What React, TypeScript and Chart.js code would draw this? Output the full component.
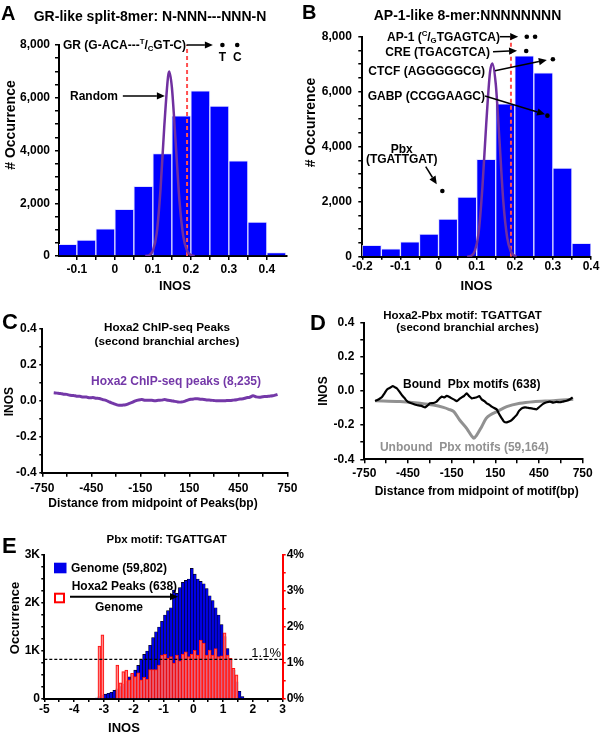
import React, { useEffect, useRef } from "react";
import { Chart, registerables } from "chart.js";
Chart.register(...registerables);

const FONT = "'Liberation Sans', Arial, Helvetica, sans-serif";
const BLUE = "#0000ff";
const PURPLE = "#7030a0";
const GRAY = "rgb(145,145,145)";

// ===== Panel A: GR-like split-8mer =====
const binsA = [-0.125, -0.075, -0.025, 0.025, 0.075, 0.125, 0.175, 0.225, 0.275, 0.325, 0.375, 0.425];
const countsA = [440, 600, 1030, 1770, 2640, 3880, 5310, 6260, 5680, 3610, 1290, 130];
const randomXA = [0.08, 0.09, 0.1, 0.11, 0.12, 0.13, 0.14, 0.143, 0.15, 0.16, 0.17, 0.18, 0.19, 0.2, 0.21];
const randomYA = [0, 30, 200, 850, 2500, 4900, 6800, 7000, 6400, 4300, 2100, 750, 200, 40, 0];
const cutoffA = 0.19;
const dotsXA = [0.283, 0.322];
const dotsYA = [8000, 8000];
const xTicksA = [-0.1, -0.05, 0, 0.05, 0.1, 0.15, 0.2, 0.25, 0.3, 0.35, 0.4];
const xLabelsA = [-0.1, 0, 0.1, 0.2, 0.3, 0.4];
const yTicksA = [0, 500, 1000, 1500, 2000, 2500, 3000, 3500, 4000, 4500, 5000, 5500, 6000, 6500, 7000, 7500, 8000];
const yLabelsA = [0, 2000, 4000, 6000, 8000];

// ===== Panel B: AP-1-like 8-mer =====
const binsB = [-0.175, -0.125, -0.075, -0.025, 0.025, 0.075, 0.125, 0.175, 0.225, 0.275, 0.325, 0.375];
const countsB = [410, 290, 545, 820, 1370, 2170, 3540, 5560, 7300, 6690, 3220, 485];
const randomXB = [0.075, 0.085, 0.095, 0.105, 0.115, 0.125, 0.135, 0.141, 0.15, 0.16, 0.17, 0.18, 0.19, 0.2, 0.205];
const randomYB = [0, 30, 200, 850, 2500, 4800, 6700, 7030, 6300, 4200, 2000, 700, 180, 30, 0];
const cutoffB = 0.19;
const dotsXB = [0.2315, 0.2533, 0.23, 0.3, 0.2856, 0.01];
const dotsYB = [8000, 8000, 7480, 7180, 5130, 2390];
const xTicksB = [-0.2, -0.15, -0.1, -0.05, 0, 0.05, 0.1, 0.15, 0.2, 0.25, 0.3, 0.35, 0.4];
const xLabelsB = [-0.2, -0.1, 0, 0.1, 0.2, 0.3, 0.4];

// ===== Panel C: Hoxa2 ChIP-seq peaks profile =====
const distC = [-680, -660, -640, -620, -600, -580, -560, -540, -520, -500, -480, -460, -440, -420, -400, -380, -360, -340, -320, -300, -280, -260, -240, -220, -200, -180, -160, -140, -120, -100, -80, -60, -40, -20, 0, 20, 40, 60, 80, 100, 120, 140, 160, 180, 200, 220, 240, 260, 280, 300, 320, 340, 360, 380, 400, 420, 440, 460, 480, 500, 520, 540, 560, 580, 600, 620, 640, 660, 680, 690];
const inosC = [0.045, 0.043, 0.041, 0.037, 0.036, 0.031, 0.03, 0.026, 0.025, 0.021, 0.021, 0.017, 0.018, 0.015, 0.013, 0.007, 0.003, -0.006, -0.013, -0.02, -0.025, -0.024, -0.022, -0.015, -0.009, 0.0, 0.005, 0.007, 0.003, 0.004, 0.003, 0.001, 0.003, 0.004, 0.007, 0.003, 0.001, -0.003, -0.006, -0.007, -0.003, 0.004, 0.009, 0.011, 0.012, 0.009, 0.008, 0.005, 0.004, 0.002, 0.0, 0.001, 0.0, 0.002, 0.002, 0.004, 0.006, 0.01, 0.012, 0.017, 0.02, 0.028, 0.022, 0.02, 0.023, 0.024, 0.026, 0.028, 0.033, 0.036];
const xTicksCD = [-750, -600, -450, -300, -150, 0, 150, 300, 450, 600, 750];
const xLabelsCD = [-750, -450, -150, 150, 450, 750];
const yTicksCD = [-0.4, -0.3, -0.2, -0.1, 0, 0.1, 0.2, 0.3, 0.4];
const yLabelsCD = [-0.4, -0.2, 0, 0.2, 0.4];

// ===== Panel D: Hoxa2-Pbx motif profile =====
const distBoundD = [-676, -650, -630, -610, -592, -575, -555, -540, -527, -510, -493, -475, -459, -440, -413, -390, -367, -350, -333, -315, -299, -275, -253, -235, -218, -200, -184, -165, -150, -130, -115, -98, -81, -64, -47, -30, -12, 5, 22, 40, 56, 75, 91, 108, 125, 142, 159, 176, 194, 210, 228, 245, 262, 280, 297, 310, 319, 336, 354, 370, 388, 410, 434, 450, 468, 485, 503, 525, 548, 570, 594, 615, 640, 660, 681];
const inosBoundD = [-0.059, -0.048, -0.037, -0.012, 0.01, 0.018, 0.029, 0.022, 0.016, -0.002, -0.023, -0.04, -0.057, -0.068, -0.076, -0.082, -0.086, -0.09, -0.096, -0.085, -0.072, -0.07, -0.062, -0.045, -0.033, -0.038, -0.029, -0.035, -0.043, -0.052, -0.059, -0.048, -0.037, -0.028, -0.014, -0.03, -0.043, -0.04, -0.037, -0.03, -0.049, -0.06, -0.072, -0.08, -0.092, -0.1, -0.107, -0.135, -0.16, -0.18, -0.184, -0.178, -0.17, -0.155, -0.14, -0.12, -0.111, -0.1, -0.096, -0.098, -0.1, -0.104, -0.107, -0.095, -0.082, -0.072, -0.066, -0.062, -0.068, -0.064, -0.066, -0.062, -0.057, -0.05, -0.037];
const distUnboundD = [-676, -505, -367, -276, -207, -170, -135, -95, -47, -12, 3, 22, 56, 87, 120, 159, 228, 319, 411, 548, 685];
const inosUnboundD = [-0.057, -0.062, -0.072, -0.082, -0.096, -0.107, -0.121, -0.17, -0.219, -0.264, -0.277, -0.258, -0.209, -0.16, -0.137, -0.121, -0.092, -0.072, -0.0625, -0.057, -0.049];

// ===== Panel E: Pbx motif TGATTGAT INOS histogram =====
const binsE = [-3.25, -3.15, -3.05, -2.95, -2.85, -2.75, -2.65, -2.55, -2.45, -2.35, -2.25, -2.15, -2.05, -1.95, -1.85, -1.75, -1.65, -1.55, -1.45, -1.35, -1.25, -1.15, -1.05, -0.95, -0.85, -0.75, -0.65, -0.55, -0.45, -0.35, -0.25, -0.15, -0.05, 0.05, 0.15, 0.25, 0.35, 0.45, 0.55, 0.65, 0.75, 0.85, 0.95, 1.05, 1.15, 1.25, 1.35, 1.45, 1.55, 1.65];
const genomeE = [20, 50, 80, 100, 120, 140, 180, 210, 260, 310, 380, 460, 530, 600, 700, 820, 930, 1000, 1120, 1280, 1400, 1500, 1620, 1750, 1840, 1900, 2270, 2200, 2320, 2430, 2470, 2500, 2720, 2600, 2500, 2450, 2400, 2300, 2150, 2050, 1900, 1750, 1550, 1300, 1050, 820, 600, 360, 160, 50];
const peaksPctE = [0, 1.47, 1.78, 0, 0, 0, 0, 0.94, 0.45, 0.76, 0.8, 0.53, 0.71, 0.62, 0.73, 0.53, 0.6, 0.55, 0.82, 0.82, 0.82, 0.94, 1.22, 1.24, 1.13, 1.18, 1.0, 1.22, 1.06, 1.25, 1.31, 1.18, 1.25, 1.35, 1.22, 1.64, 1.55, 1.22, 1.36, 1.22, 1.4, 1.18, 1.2, 1.84, 1.22, 1.13, 0.85, 0.67, 0, 0];
const thresholdE = 1.1;
const xTicksE = [-5, -4.5, -4, -3.5, -3, -2.5, -2, -1.5, -1, -0.5, 0, 0.5, 1, 1.5, 2, 2.5, 3];
const xLabelsE = [-5, -4, -3, -2, -1, 0, 1, 2, 3];
const yTicksE = [0, 250, 500, 750, 1000, 1250, 1500, 1750, 2000, 2250, 2500, 2750, 3000];
const yLabelsE = [0, 1000, 2000, 3000];
const y2TicksE = [0, 0.5, 1, 1.5, 2, 2.5, 3, 3.5, 4];
const y2LabelsE = [0, 1, 2, 3, 4];

// ---------- helpers ----------
type Seg = { t: string; sup?: boolean; sub?: boolean };
type Txt = { t: string | Seg[]; x: number; y: number; size?: number; color?: string; align?: CanvasTextAlign; rot?: boolean; xd?: string; weight?: string };
type Arr = { x1: number; y1: number; x2: number; y2: number; px?: boolean; xs?: string; ys?: string; lw?: number; head?: boolean };

function mkAxis(o: { min: number; max: number; ticks: number[]; labels: number[]; fmt: (v: number) => string; size: number; horizontal: boolean; position?: string; color?: string; tickLen?: number; pad?: number; }) {
  const color = o.color ?? "#000";
  return {
    type: "linear",
    position: o.position ?? (o.horizontal ? "bottom" : "left"),
    min: o.min,
    max: o.max,
    offset: false,
    afterBuildTicks: (a: any) => { a.ticks = o.ticks.map((v) => ({ value: v })); },
    afterFit: (a: any) => {
      if (o.horizontal) { a.height = o.size; a.paddingLeft = 0; a.paddingRight = 0; }
      else { a.width = o.size; a.paddingTop = 0; a.paddingBottom = 0; }
    },
    border: { display: true, color, width: 2 },
    grid: { display: true, offset: false, drawOnChartArea: false, drawTicks: true, tickLength: o.tickLen ?? 4, color, lineWidth: 1.5 },
    ticks: {
      autoSkip: false, maxRotation: 0, minRotation: 0, padding: o.pad ?? 2, color: "#000",
      font: { family: FONT, size: 12, weight: "bold" },
      callback: (v: any) => { const n = Number(v); return o.labels.some((l) => Math.abs(l - n) < 1e-9) ? o.fmt(n) : ""; },
    },
  };
}

function drawArrow(ctx: CanvasRenderingContext2D, x1: number, y1: number, x2: number, y2: number, lw: number, head: boolean) {
  ctx.strokeStyle = "#000"; ctx.fillStyle = "#000"; ctx.lineWidth = lw;
  const ang = Math.atan2(y2 - y1, x2 - x1);
  const hl = 8, hw = 3.6;
  const bx = head ? x2 - Math.cos(ang) * hl : x2;
  const by = head ? y2 - Math.sin(ang) * hl : y2;
  ctx.beginPath(); ctx.moveTo(x1, y1); ctx.lineTo(bx, by); ctx.stroke();
  if (head) {
    ctx.beginPath();
    ctx.moveTo(x2, y2);
    ctx.lineTo(bx + Math.sin(ang) * hw, by - Math.cos(ang) * hw);
    ctx.lineTo(bx - Math.sin(ang) * hw, by + Math.cos(ang) * hw);
    ctx.closePath(); ctx.fill();
  }
}

function drawText(chart: any, ctx: CanvasRenderingContext2D, t: Txt) {
  const size = t.size ?? 12;
  const weight = t.weight ?? "bold";
  let x = t.xd ? chart.scales[t.xd].getPixelForValue(t.x) : t.x;
  const y = t.y;
  ctx.fillStyle = t.color ?? "#000";
  ctx.textBaseline = "alphabetic";
  if (t.rot) {
    ctx.save();
    ctx.translate(x, y);
    ctx.rotate(-Math.PI / 2);
    ctx.textAlign = "center";
    ctx.font = `${weight} ${size}px ${FONT}`;
    ctx.fillText(t.t as string, 0, 0);
    ctx.restore();
    return;
  }
  const segs: Seg[] = typeof t.t === "string" ? [{ t: t.t }] : t.t;
  const parts = segs.map((s) => {
    const fs = s.sup || s.sub ? size * 0.65 : size;
    ctx.font = `${weight} ${fs}px ${FONT}`;
    return { s, fs, w: ctx.measureText(s.t).width };
  });
  const total = parts.reduce((a, p) => a + p.w, 0);
  const align = t.align ?? "left";
  let cx = align === "right" ? x - total : align === "center" ? x - total / 2 : x;
  ctx.textAlign = "left";
  for (const p of parts) {
    ctx.font = `${weight} ${p.fs}px ${FONT}`;
    const dy = p.s.sup ? -size * 0.38 : p.s.sub ? size * 0.2 : 0;
    ctx.fillText(p.s.t, cx, y + dy);
    cx += p.w;
  }
}

function overlay(id: string, texts: Txt[], arrows: Arr[], extra?: (chart: any, ctx: CanvasRenderingContext2D) => void) {
  return {
    id,
    afterDraw(chart: any) {
      const ctx = chart.ctx as CanvasRenderingContext2D;
      ctx.save();
      for (const a of arrows) {
        let { x1, y1, x2, y2 } = a;
        if (!a.px) {
          const xs = chart.scales[a.xs ?? "x"], ys = chart.scales[a.ys ?? "y"];
          x1 = xs.getPixelForValue(a.x1); x2 = xs.getPixelForValue(a.x2);
          y1 = ys.getPixelForValue(a.y1); y2 = ys.getPixelForValue(a.y2);
        }
        drawArrow(ctx, x1, y1, x2, y2, a.lw ?? 1.5, a.head !== false);
      }
      for (const t of texts) drawText(chart, ctx, t);
      if (extra) extra(chart, ctx);
      ctx.restore();
    },
  };
}

const pts = (xs: number[], ys: number[]) => xs.map((x, i) => ({ x, y: ys[i] }));
const baseOpts = (pad: { top: number; right: number }) => ({
  responsive: false,
  animation: false,
  devicePixelRatio: 1,
  layout: { padding: { left: 0, top: pad.top, right: pad.right, bottom: 0 } },
  plugins: { legend: { display: false }, tooltip: { enabled: false }, title: { display: false } },
});
const thousands = (v: number) => (v === 0 ? "0" : v.toLocaleString("en-US"));
const oneDec = (v: number) => (Math.round(v * 10) / 10).toString();

// ---------- panels ----------
function histPanel(canvas: HTMLCanvasElement, p: any) {
  return new Chart(canvas, {
    type: "bar",
    data: {
      datasets: [
        { type: "line", data: pts(p.dotsX, p.dotsY), showLine: false, pointRadius: 2.3, pointBackgroundColor: "#000", pointBorderWidth: 0, clip: false, order: 0 } as any,
        { type: "line", data: pts(p.randX, p.randY), borderColor: PURPLE, borderWidth: 2.5, pointRadius: 0, cubicInterpolationMode: "monotone", order: 1 } as any,
        { type: "line", data: [{ x: p.cutoff, y: 0 }, { x: p.cutoff, y: 8000 }], borderColor: "#ff5050", borderWidth: 2, borderDash: [4, 3], pointRadius: 0, order: 2 } as any,
        { type: "bar", data: pts(p.bins, p.counts), backgroundColor: BLUE, borderColor: "rgba(225,225,255,1)", borderWidth: 1, barPercentage: 1, categoryPercentage: 1, grouped: false, order: 3 } as any,
      ],
    },
    options: {
      ...baseOpts({ top: p.area.T, right: 300 - p.area.R }),
      scales: {
        x: mkAxis({ min: p.xmin, max: p.xmax, ticks: p.xTicks, labels: p.xLabels, fmt: oneDec, size: 300 - p.area.B, horizontal: true, tickLen: p.xTickLen, pad: p.xPad }),
        y: mkAxis({ min: 0, max: 8000, ticks: yTicksA, labels: yLabelsA, fmt: thousands, size: p.area.L, horizontal: false, tickLen: 4, pad: p.yPad }),
      },
    } as any,
    plugins: [overlay(p.id, p.texts, p.arrows)],
  });
}

function makeA(c: HTMLCanvasElement) {
  return histPanel(c, {
    id: "annA", area: { L: 59, T: 45, R: 287, B: 256 }, xmin: -0.147, xmax: 0.453,
    bins: binsA, counts: countsA, randX: randomXA, randY: randomYA, cutoff: cutoffA, dotsX: dotsXA, dotsY: dotsYA,
    xTicks: xTicksA, xLabels: xLabelsA, xTickLen: 4, xPad: 2, yPad: 5,
    texts: [
      { t: "A", x: 1, y: 20, size: 20 },
      { t: "GR-like split-8mer: N-NNN---NNN-N", x: 150, y: 21, size: 14, align: "center" },
      { t: "# Occurrence", x: 15, y: 125, size: 14, rot: true },
      { t: "INOS", x: 175, y: 290, size: 13, align: "center" },
      { t: [{ t: "GR (G-ACA---" }, { t: "T", sup: true }, { t: "/" }, { t: "C", sub: true }, { t: "GT-C)" }], x: 63, y: 49, size: 12 },
      { t: "T", x: dotsXA[0], xd: "x", y: 60.5, size: 12, align: "center" },
      { t: "C", x: dotsXA[1], xd: "x", y: 60.5, size: 12, align: "center" },
      { t: "Random", x: 118, y: 99.5, size: 12, align: "right" },
    ],
    arrows: [
      { x1: 0.1886, y1: 8000, x2: 0.258, y2: 8000 },
      { x1: 0.021, y1: 6070, x2: 0.1316, y2: 6070 },
    ],
  });
}

function makeB(c: HTMLCanvasElement) {
  return histPanel(c, {
    id: "annB", area: { L: 62.3, T: 36.7, R: 291, B: 256.7 }, xmin: -0.2, xmax: 0.4,
    bins: binsB, counts: countsB, randX: randomXB, randY: randomYB, cutoff: cutoffB, dotsX: dotsXB, dotsY: dotsYB,
    xTicks: xTicksB, xLabels: xLabelsB, xTickLen: 3, xPad: 0, yPad: 6.5,
    texts: [
      { t: "B", x: 2, y: 18.5, size: 20 },
      { t: "AP-1-like 8-mer:NNNNNNNN", x: 167.5, y: 20, size: 14, align: "center" },
      { t: "# Occurrence", x: 15, y: 122.5, size: 14, rot: true },
      { t: "INOS", x: 176.5, y: 290, size: 13, align: "center" },
      { t: [{ t: "AP-1 (" }, { t: "C", sup: true }, { t: "/" }, { t: "G", sub: true }, { t: "TGAGTCA)" }], x: 200, y: 41, size: 12, align: "right" },
      { t: "CRE (TGACGTCA)", x: 190, y: 55.5, size: 12, align: "right" },
      { t: "CTCF (AGGGGGCG)", x: 185, y: 75, size: 12, align: "right" },
      { t: "GABP (CCGGAAGC)", x: 185, y: 99.5, size: 12, align: "right" },
      { t: "Pbx", x: 101.7, y: 152.5, size: 12, align: "center" },
      { t: "(TGATTGAT)", x: 101.7, y: 163, size: 12, align: "center" },
    ],
    arrows: [
      { x1: 0.161, y1: 8000, x2: 0.209, y2: 8000 },
      { x1: 0.143, y1: 7455, x2: 0.206, y2: 7490 },
      { x1: 0.148, y1: 6764, x2: 0.284, y2: 7153 },
      { x1: 0.122, y1: 5844, x2: 0.2795, y2: 5178 },
      { x1: -0.0336, y1: 3273, x2: -0.0047, y2: 2633 },
    ],
  });
}

function profileOpts(area: any, w: number, h: number, xPad: number, yPad: number, yTickLen: number) {
  return {
    ...baseOpts({ top: area.T, right: w - area.R }),
    scales: {
      x: mkAxis({ min: -750, max: 750, ticks: xTicksCD, labels: xLabelsCD, fmt: (v) => String(v), size: h - area.B, horizontal: true, tickLen: 4, pad: xPad }),
      y: mkAxis({ min: -0.4, max: 0.4, ticks: yTicksCD, labels: yLabelsCD, fmt: (v) => v.toFixed(1), size: area.L, horizontal: false, tickLen: yTickLen, pad: yPad }),
    },
  } as any;
}

function makeC(c: HTMLCanvasElement) {
  const area = { L: 42.3, T: 29, R: 287.3, B: 172.7 };
  return new Chart(c, {
    type: "line",
    data: { datasets: [{ data: pts(distC, inosC), borderColor: "#7438a8", borderWidth: 3, pointRadius: 0, tension: 0.3 } as any] },
    options: profileOpts(area, 300, 220, 4.5, 2.6, 3),
    plugins: [overlay("annC", [
      { t: "C", x: 2, y: 29, size: 22 },
      { t: "Hoxa2 ChIP-seq Peaks", x: 167, y: 30.5, size: 11.7, align: "center" },
      { t: "(second branchial arches)", x: 167, y: 44.5, size: 11.7, align: "center" },
      { t: "Hoxa2 ChIP-seq peaks (8,235)", x: 176, y: 84.5, size: 12, align: "center", color: "#7438a8" },
      { t: "INOS", x: 12.7, y: 101.7, size: 12, rot: true },
      { t: "Distance from midpoint of Peaks(bp)", x: 153, y: 206.5, size: 12, align: "center" },
    ], [])],
  });
}

function makeD(c: HTMLCanvasElement) {
  const area = { L: 64.3, T: 22.7, R: 282.7, B: 159.3 };
  return new Chart(c, {
    type: "line",
    data: {
      datasets: [
        { data: pts(distBoundD, inosBoundD), borderColor: "#000", borderWidth: 2.2, pointRadius: 0, tension: 0.2, order: 0 } as any,
        { data: pts(distUnboundD, inosUnboundD), borderColor: GRAY, borderWidth: 3, pointRadius: 0, cubicInterpolationMode: "monotone", order: 1 } as any,
      ],
    },
    options: profileOpts(area, 300, 220, 3, 6, 4),
    plugins: [overlay("annD", [
      { t: "D", x: 10, y: 30, size: 22 },
      { t: "Hoxa2-Pbx motif: TGATTGAT", x: 162.5, y: 19, size: 11.5, align: "center" },
      { t: "(second branchial arches)", x: 167.5, y: 30.5, size: 11.5, align: "center" },
      { t: "Bound  Pbx motifs (638)", x: 171.7, y: 88, size: 12, align: "center" },
      { t: "Unbound  Pbx motifs (59,164)", x: 164.3, y: 151, size: 12, align: "center", color: GRAY },
      { t: "INOS", x: 27, y: 91, size: 12, rot: true },
      { t: "Distance from midpoint of motif(bp)", x: 176.7, y: 195, size: 12, align: "center" },
    ], [])],
  });
}

function makeE(c: HTMLCanvasElement) {
  const area = { L: 44.3, T: 35, R: 282.7, B: 179 };
  const W = 320, H = 214;
  const legend = (_chart: any, ctx: CanvasRenderingContext2D) => {
    ctx.fillStyle = "rgb(0,0,235)";
    ctx.fillRect(54, 42.7, 12.5, 10.6);
    ctx.strokeStyle = "#ff0000"; ctx.lineWidth = 2;
    ctx.fillStyle = "#fff";
    ctx.fillRect(55, 73.7, 9, 8.6);
    ctx.strokeRect(55, 73.7, 9, 8.6);
  };
  return new Chart(c, {
    type: "bar",
    data: {
      datasets: [
        { type: "line", data: [{ x: -5, y: thresholdE }, { x: 3, y: thresholdE }], yAxisID: "y2", borderColor: "#000", borderWidth: 1.2, borderDash: [3, 2], pointRadius: 0, order: 0 } as any,
        { type: "bar", data: binsE.map((x, i) => ({ x, y: peaksPctE[i] > 0 ? peaksPctE[i] : null })), yAxisID: "y2", backgroundColor: "rgba(255,175,175,0.55)", borderColor: "#ff1010", borderWidth: 1, barPercentage: 1, categoryPercentage: 1, grouped: false, order: 1 } as any,
        { type: "bar", data: pts(binsE, genomeE), yAxisID: "y", backgroundColor: "rgb(0,0,230)", borderColor: "#000", borderWidth: 0.6, barPercentage: 1, categoryPercentage: 1, grouped: false, order: 2 } as any,
      ],
    },
    options: {
      ...baseOpts({ top: area.T, right: 0 }),
      scales: {
        x: mkAxis({ min: -5, max: 3, ticks: xTicksE, labels: xLabelsE, fmt: (v) => String(v), size: H - area.B, horizontal: true, tickLen: 3, pad: 0 }),
        y: mkAxis({ min: 0, max: 3000, ticks: yTicksE, labels: yLabelsE, fmt: (v) => (v === 0 ? "0" : `${v / 1000}K`), size: area.L, horizontal: false, tickLen: 3, pad: 1.3 }),
        y2: mkAxis({ min: 0, max: 4, ticks: y2TicksE, labels: y2LabelsE, fmt: (v) => `${v}%`, size: W - area.R, horizontal: false, position: "right", color: "#ff0000", tickLen: 3, pad: 1 }),
      },
    } as any,
    plugins: [overlay("annE", [
      { t: "E", x: 2, y: 33, size: 22 },
      { t: "Pbx motif: TGATTGAT", x: 166.7, y: 23, size: 11.5, align: "center" },
      { t: "Occurrence", x: 19.3, y: 98, size: 13, rot: true },
      { t: "INOS", x: 124, y: 211.7, size: 13, align: "center" },
      { t: "Genome (59,802)", x: 71, y: 52, size: 12 },
      { t: "Hoxa2 Peaks (638)", x: 71.7, y: 70, size: 12 },
      { t: "Genome", x: 119, y: 91, size: 12, align: "center" },
      { t: "1.1%", x: 281, y: 137, size: 13, align: "right", weight: "normal" },
    ], [
      { x1: 70, y1: 76.7, x2: 178, y2: 76.7, px: true, lw: 2 },
    ], legend)],
  });
}

const PANELS = [
  { left: 0, top: 0, w: 300, h: 300, make: makeA },
  { left: 300, top: 0, w: 300, h: 300, make: makeB },
  { left: 0, top: 300, w: 300, h: 220, make: makeC },
  { left: 300, top: 300, w: 300, h: 220, make: makeD },
  { left: 0, top: 520, w: 320, h: 214, make: makeE },
];

export default function App() {
  const refs = [useRef<HTMLCanvasElement>(null), useRef<HTMLCanvasElement>(null), useRef<HTMLCanvasElement>(null), useRef<HTMLCanvasElement>(null), useRef<HTMLCanvasElement>(null)];
  useEffect(() => {
    const charts = PANELS.map((p, i) => p.make(refs[i].current as HTMLCanvasElement));
    return () => charts.forEach((ch) => ch.destroy());
  }, []);
  return (
    <div style={{ position: "absolute", left: 0, top: 0, width: 600, height: 734, background: "#fff", overflow: "hidden" }}>
      {PANELS.map((p, i) => (
        <canvas key={i} ref={refs[i]} width={p.w} height={p.h} style={{ position: "absolute", left: p.left, top: p.top, width: p.w, height: p.h }} />
      ))}
    </div>
  );
}
